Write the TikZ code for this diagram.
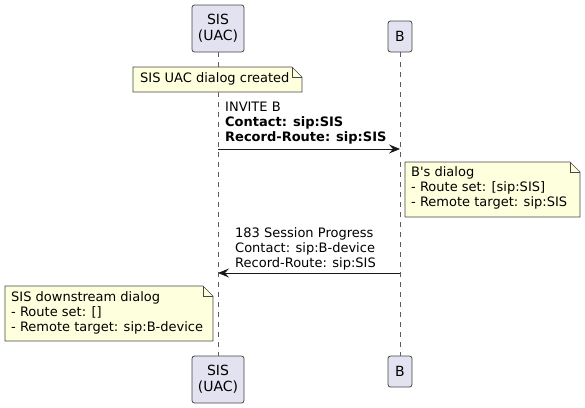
\documentclass[tikz,border=0pt]{standalone}
\usepackage{fontspec}
\setmainfont{DejaVu Sans}
\usepackage{tikz}
\usetikzlibrary{arrows.meta, positioning, calc}

\definecolor{partfill}{HTML}{E2E2F0}
\definecolor{notefill}{HTML}{FEFFDD}
\definecolor{linecol}{HTML}{181818}

\tikzset{
    participant/.style={rectangle, draw=linecol!80, line width=0.8pt, rounded corners=2.5pt, fill=partfill,
        inner sep=0pt, align=center, font=\fontsize{14}{16}\selectfont},
    lifeline/.style={draw=linecol!70, line width=0.6pt, dash pattern=on 5pt off 5pt},
    msg/.style={draw=linecol, line width=0.9pt, -{Stealth[length=11pt, width=9pt, inset=4pt]}},
    msgtext/.style={anchor=north west, inner sep=0pt, align=left, font=\fontsize{13}{15}\selectfont},
    notetext/.style={anchor=north west, inner sep=0pt, align=left, font=\fontsize{13}{15}\selectfont}
}

% draw a note with a folded corner: \drawnote{name}{x1}{y1}{x2}{y2}
\newcommand{\drawnote}[5]{
    \fill[notefill] (#2,#3) -- (#4-10,#3) -- (#4,#3+10) -- (#4,#5) -- (#2,#5) -- cycle;
    \draw[linecol!80, line width=0.6pt] (#2,#3) -- (#4-10,#3) -- (#4,#3+10) -- (#4,#5) -- (#2,#5) -- cycle;
    \draw[linecol!80, line width=0.6pt] (#4-10,#3) -- (#4-10,#3+10) -- (#4,#3+10);
    \coordinate (#1) at (#2,#3);
}

\begin{document}
\begin{tikzpicture}[x=1pt, y=-1pt]
    \useasboundingbox (0,0) rectangle (585,407);

    % Participants (heads and feet)
    \node[participant, minimum width=52pt, minimum height=47pt] (sisTop) at (218,28.5) {SIS\\(UAC)};
    \node[participant, minimum width=24pt, minimum height=31pt] (bTop) at (400,36.5) {B};
    \node[participant, minimum width=52pt, minimum height=47pt] (sisBot) at (218,379.5) {SIS\\(UAC)};
    \node[participant, minimum width=24pt, minimum height=31pt] (bBot) at (400,371.5) {B};

    % Lifelines
    \draw[lifeline] (sisTop.south) -- (sisBot.north);
    \draw[lifeline] (bTop.south) -- (bBot.north);

    % Note over SIS
    \drawnote{noteSis}{133}{67}{302}{92}
    \node[notetext] (noteSisText) at (140,72) {SIS UAC dialog created};

    % INVITE
    \coordinate (inviteFrom) at (218,149);
    \coordinate (inviteTo) at (400,149);
    \node[msgtext] (inviteText) at (225,102) {INVITE B\\\textbf{Contact: sip:SIS}\\\textbf{Record-Route: sip:SIS}};
    \draw[msg] (inviteFrom) -- (inviteTo);

    % Note right of B
    \drawnote{noteB}{405}{162}{580}{217}
    \node[notetext] (noteBText) at (411,166) {B\textquotesingle s dialog\\- Route set: [sip:SIS]\\- Remote target: sip:SIS};

    % 183 Session Progress
    \coordinate (progFrom) at (400,273);
    \coordinate (progTo) at (218,273);
    \node[msgtext] (progText) at (235,227) {183 Session Progress\\Contact: sip:B-device\\Record-Route: sip:SIS};
    \draw[msg] (progFrom) -- (progTo);

    % Note left of SIS
    \drawnote{noteDown}{5}{286}{213}{341}
    \node[notetext] (noteDownText) at (11,291) {SIS downstream dialog\\- Route set: []\\- Remote target: sip:B-device};
\end{tikzpicture}
\end{document}
